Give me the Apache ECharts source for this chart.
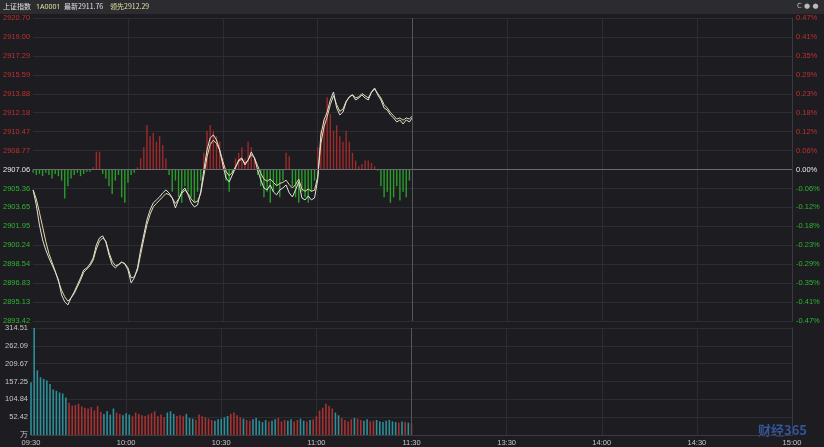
<!DOCTYPE html>
<html><head><meta charset="utf-8">
<script src="https://cdn.jsdelivr.net/npm/echarts@6/dist/echarts.min.js"></script>
<style>html,body{margin:0;padding:0;background:#1c1c21}#c{width:824px;height:447px}</style>
</head><body><div id="c"></div>
<script>
const prevClose = 2907.06;
const priceTickStep = 1.705;
const priceTicks = ['2893.42','2895.13','2896.83','2898.54','2900.24','2901.95','2903.65','2905.36','2907.06','2908.77','2910.47','2912.18','2913.88','2915.59','2917.29','2919.00','2920.70'];
const pctTicks = ['-0.47%','-0.41%','-0.35%','-0.29%','-0.23%','-0.18%','-0.12%','-0.06%','0.00%','0.06%','0.12%','0.18%','0.23%','0.29%','0.35%','0.41%','0.47%'];
const volTicks = ['万','52.42','104.84','157.25','209.67','262.09','314.51'];
const timeLabels = ['09:30','10:00','10:30','11:00','11:30','13:30','14:00','14:30','15:00'];
const price = [2905.22,2903.87,2902.07,2900.72,2899.82,2899.10,2898.47,2897.84,2897.12,2895.77,
2895.14,2894.87,2895.50,2896.04,2896.67,2897.30,2898.02,2898.20,2898.56,2899.10,
2900.27,2900.90,2901.08,2900.54,2899.37,2898.47,2898.20,2898.47,2898.74,2898.56,
2898.02,2896.85,2897.30,2898.20,2899.82,2901.17,2902.52,2903.42,2904.05,2904.32,
2904.59,2904.95,2905.22,2904.95,2904.50,2903.60,2904.32,2905.04,2905.40,2904.77,
2904.05,2903.69,2903.87,2905.04,2907.02,2908.82,2909.90,2910.17,2909.72,2908.82,
2907.47,2906.30,2905.94,2906.57,2907.20,2907.92,2908.10,2907.47,2907.92,2908.64,
2908.10,2907.02,2906.12,2905.40,2905.22,2905.67,2905.04,2904.77,2905.22,2905.40,
2905.67,2904.95,2904.59,2905.22,2905.94,2904.50,2904.32,2904.68,2904.32,2904.50,
2906.12,2910.17,2911.52,2912.24,2913.32,2914.04,2912.60,2911.97,2912.24,2913.14,
2913.59,2913.77,2913.32,2913.50,2913.77,2913.50,2913.32,2914.04,2914.40,2913.77,
2913.32,2912.60,2912.42,2911.97,2911.70,2911.34,2911.52,2911.16,2911.52,2911.34,2911.76];
const avg = [2905.22,2904.4,2903.2,2901.9,2900.6,2899.5,2898.7,2897.9,2897.0,2896.2,2895.6,
2895.2,2895.5,2895.9,2896.5,2897.1,2897.8,2898.1,2898.4,2898.9,2899.9,
2900.6,2900.9,2900.6,2899.6,2898.8,2898.4,2898.5,2898.7,2898.6,2898.2,
2897.3,2897.4,2898.0,2899.4,2900.8,2902.1,2903.0,2903.7,2904.0,2904.3,
2904.6,2904.9,2904.8,2904.5,2904.0,2904.4,2904.9,2905.2,2904.9,2904.4,
2904.1,2904.2,2904.9,2906.5,2908.2,2909.3,2909.7,2909.4,2908.8,2907.8,
2906.9,2906.5,2906.8,2907.3,2907.8,2908.0,2907.6,2907.9,2908.4,2908.1,
2907.4,2906.7,2906.2,2906.0,2906.2,2905.9,2905.6,2905.8,2905.9,2906.1,
2905.7,2905.4,2905.7,2906.2,2905.3,2905.1,2905.3,2905.1,2905.2,2906.4,
2909.4,2910.9,2911.8,2912.9,2913.7,2912.9,2912.3,2912.5,2913.2,2913.6,
2913.8,2913.5,2913.6,2913.9,2913.7,2913.5,2914.0,2914.3,2913.9,2913.5,
2912.9,2912.6,2912.2,2911.9,2911.6,2911.7,2911.5,2911.7,2911.6,2911.9];
const strength = [-0.3,-0.5,-0.4,-0.6,-0.3,-0.5,-0.8,-0.4,-0.6,-1.0,
-2.6,-1.5,-0.8,-0.5,-0.3,-0.6,-0.4,-0.2,-0.2,0.2,
1.6,1.6,-0.4,-0.8,-1.5,-2.2,-1.0,-0.5,-2.5,-3.0,
-1.2,-0.5,-0.3,0.2,1.0,2.0,4.0,3.0,3.3,2.5,
3.0,2.2,1.0,-0.5,-2.0,-1.0,-2.5,-3.0,-1.5,-2.0,
-2.5,-3.0,-2.0,-1.0,1.5,3.5,4.0,3.5,3.0,2.5,
1.0,-1.0,-2.0,-0.5,1.0,1.5,2.0,1.0,2.5,2.0,
1.0,-0.5,-1.5,-2.5,-2.0,-3.0,-2.0,-1.5,-2.5,-1.0,
1.5,1.2,-1.5,-2.5,-3.0,-2.0,-2.5,-3.0,-2.0,-1.0,
2.0,3.5,4.5,6.5,5.0,3.5,4.0,3.0,2.5,3.5,
2.5,1.5,0.8,0.3,0.5,0.8,0.8,0.6,0.3,-0.1,
-1.5,-2.5,-2.0,-3.0,-2.5,-1.5,-2.8,-2.0,-2.5,-1.0,0];
const volume = [155,320,190,170,165,160,150,134,130,125,
122,110,95,86,88,92,84,80,78,82,
72,85,68,62,70,60,78,66,62,58,
64,60,55,66,62,58,56,60,64,70,
55,60,52,66,70,62,56,58,55,62,
50,48,45,60,55,52,48,44,42,46,
48,52,56,62,66,58,52,48,44,42,
46,50,42,38,44,40,42,46,50,40,
44,42,46,40,44,48,42,40,44,46,
55,72,80,92,86,78,66,58,50,44,
40,46,50,48,44,42,46,40,42,44,
40,38,42,44,40,38,36,40,38,36,34];

function fmt(h,m){return String(h).padStart(2,'0')+':'+String(m).padStart(2,'0');}
const times=[];
for(let t=570;t<=690;t++) times.push(fmt(Math.floor(t/60),t%60));
for(let t=781;t<=900;t++) times.push(fmt(Math.floor(t/60),t%60));
const showIdx = i => timeLabels.includes(times[i]);

const RED='#c0302f', GRN='#2fb52f';
const volData = volume.map((v,i)=>({value:v,itemStyle:{color:(price[i]>=(i?price[i-1]:prevClose))?'#a83232':'#2d8f98'}}));
const strData = strength.map(v=>({value:v,itemStyle:{color:v>=0?'#9e2a2a':'#2a9e2a'}}));

const chart = echarts.init(document.getElementById('c'));
const lblColor = v => Math.abs(v)<1e-6?'#e8e8e8':(v>0?RED:GRN);
const tickIdx = v => Math.round(v/priceTickStep)+8;
chart.setOption({
  backgroundColor:'#1c1c21',
  animation:false,
  graphic:[
    {type:'rect',left:0,top:0,shape:{width:824,height:14},style:{fill:'#2b2b30'}},
    {type:'text',left:3,top:3,style:{text:'上证指数',fill:'#e0e0e0',font:'7px "Noto Sans CJK SC"'}},
    {type:'text',left:36,top:3,style:{text:'1A0001',fill:'#e0e0a0',font:'7px "Noto Sans"'}},
    {type:'text',left:64,top:3,style:{text:'最新2911.76',fill:'#e0e0e0',font:'7px "Noto Sans CJK SC"'}},
    {type:'text',left:110,top:3,style:{text:'领先2912.29',fill:'#e0e0a0',font:'7px "Noto Sans CJK SC"'}},
    {type:'text',left:797,top:3,style:{text:'C ● ●',fill:'#bbbbbb',font:'7px "DejaVu Sans"'}},
    {type:'text',left:758,top:424,style:{text:'财经365',fill:'#3a64b8',font:'bold 13px "Noto Sans CJK SC"',opacity:0.8}}
  ],
  grid:[{left:31,right:32,top:18,height:303},{left:31,right:32,top:328,height:109}],
  xAxis:[
    {type:'category',gridIndex:0,data:times,boundaryGap:false,axisLine:{show:false},axisTick:{show:false},axisLabel:{show:false},
     splitLine:{show:true,interval:(i)=>showIdx(i)&&i>0,lineStyle:{color:'#2c2c33'}}},
    {type:'category',gridIndex:1,data:times,boundaryGap:false,axisLine:{lineStyle:{color:'#3a3a42'}},axisTick:{show:false},
     axisLabel:{interval:(i)=>showIdx(i),color:'#c8c8c8',fontSize:7.5,margin:4},
     splitLine:{show:true,interval:(i)=>showIdx(i)&&i>0,lineStyle:{color:'#2c2c33'}}}
  ],
  yAxis:[
    {type:'value',gridIndex:0,min:-8*priceTickStep,max:8*priceTickStep,interval:priceTickStep,
     axisLine:{show:false},axisTick:{show:false},splitLine:{lineStyle:{color:'#2c2c33'}},
     axisLabel:{fontSize:7.5,margin:3,formatter:v=>priceTicks[tickIdx(v)],color:v=>lblColor(v)}},
    {type:'value',gridIndex:0,position:'right',min:-8*priceTickStep,max:8*priceTickStep,interval:priceTickStep,
     axisLine:{show:true,lineStyle:{color:'#3a3a42'}},axisTick:{show:false},splitLine:{show:false},
     axisLabel:{fontSize:7.5,margin:4,formatter:v=>pctTicks[tickIdx(v)],color:v=>lblColor(v)}},
    {type:'value',gridIndex:1,min:0,max:314.52,interval:52.42,
     axisLine:{show:false},axisTick:{show:false},splitLine:{lineStyle:{color:'#2c2c33'}},
     axisLabel:{fontSize:7.5,margin:3,color:'#c8c8c8',formatter:(v,i)=>volTicks[i]}},
    {type:'value',gridIndex:1,position:'right',min:0,max:314.52,axisLine:{show:true,lineStyle:{color:'#3a3a42'}},axisLabel:{show:false},splitLine:{show:false},axisTick:{show:false}}
  ],
  series:[
    {type:'bar',xAxisIndex:0,yAxisIndex:0,data:strData,barWidth:1.4,
     markLine:{silent:true,symbol:'none',label:{show:false},data:[{yAxis:0,lineStyle:{color:'#6a6a70',type:'solid',width:1}},{xAxis:'11:30',lineStyle:{color:'#55555c',type:'solid',width:1}}]}},
    {type:'line',xAxisIndex:0,yAxisIndex:0,data:avg.map(v=>+(v-prevClose).toFixed(2)),showSymbol:false,lineStyle:{color:'#e6dc9a',width:1}},
    {type:'line',xAxisIndex:0,yAxisIndex:0,data:price.map(v=>+(v-prevClose).toFixed(2)),showSymbol:false,lineStyle:{color:'#e0e0e0',width:1}},
    {type:'bar',xAxisIndex:1,yAxisIndex:2,data:volData,barWidth:1.6,
     markLine:{silent:true,symbol:'none',label:{show:false},data:[{xAxis:'11:30',lineStyle:{color:'#55555c',type:'solid',width:1}}]}}
  ]
});
</script></body></html>
